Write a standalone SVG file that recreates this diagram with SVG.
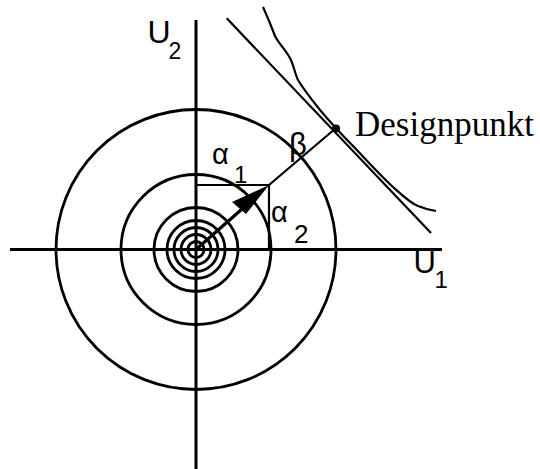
<svg xmlns="http://www.w3.org/2000/svg" width="540" height="469" viewBox="0 0 540 469">
<style>
.ax{stroke:#000;stroke-width:3;fill:none}
.c{stroke:#000;stroke-width:2.8;fill:none}
.th{stroke:#000;stroke-width:2.2;fill:none}
.sans{font-family:"Liberation Sans",Arial,sans-serif;fill:#000}
.serif{font-family:"Liberation Serif","Times New Roman",serif;fill:#000}
</style>
<rect width="540" height="469" fill="#fff"/>
<g id="axes">
<line class="ax" x1="10" y1="249.5" x2="442" y2="249.5"/>
<line class="ax" x1="196" y1="20" x2="196" y2="469"/>
</g>
<g id="circles">
<circle class="c" cx="196" cy="249.5" r="140"/>
<circle class="c" cx="196" cy="249.5" r="75"/>
<circle class="c" cx="196" cy="249.5" r="42"/>
<circle class="c" cx="196" cy="249.5" r="29"/>
<circle class="c" cx="196" cy="249.5" r="22"/>
<circle class="c" cx="196" cy="249.5" r="15"/>
<circle class="c" cx="196" cy="249.5" r="8"/>
</g>
<g id="connectors">
<polyline class="th" points="196,185 269,185 269,249.5"/>
<line stroke="#000" stroke-width="3.2" x1="196" y1="249.5" x2="250" y2="202"/>
<polygon points="269,185 232,202 246,214" fill="#000"/>
<line class="th" x1="269" y1="185" x2="336" y2="128"/>
<line class="th" x1="226.7" y1="18.3" x2="431" y2="233"/>
<path class="th" d="M263,7 C268,18 272,28 275,36 C279,44 285,49 290,58 C294,66 295,74 298,80 C304,90 312,100 320,110 C326,117 331,123 336,128 C343,136 349,142 355,148 C368,162 380,175 393,187 C403,196 410,203 418,206 C425,209 430,210 436,211"/>
<circle cx="336" cy="128.5" r="4" fill="#000"/>
</g>
<g id="labels">
<text class="sans" x="147.5" y="43.3" font-size="32">U</text>
<text class="sans" x="168.5" y="59.3" font-size="23">2</text>
<text class="sans" x="413.5" y="273.3" font-size="31">U</text>
<text class="sans" x="434.5" y="288" font-size="24">1</text>
<text class="sans" x="212" y="164" font-size="29">α</text>
<text class="sans" x="234" y="183" font-size="24">1</text>
<text class="sans" x="271" y="222" font-size="29">α</text>
<text class="sans" x="294" y="243" font-size="26">2</text>
<text class="sans" x="289" y="155" font-size="31">β</text>
<text class="serif" x="355" y="136" font-size="35">Designpunkt</text>
</g>
</svg>
